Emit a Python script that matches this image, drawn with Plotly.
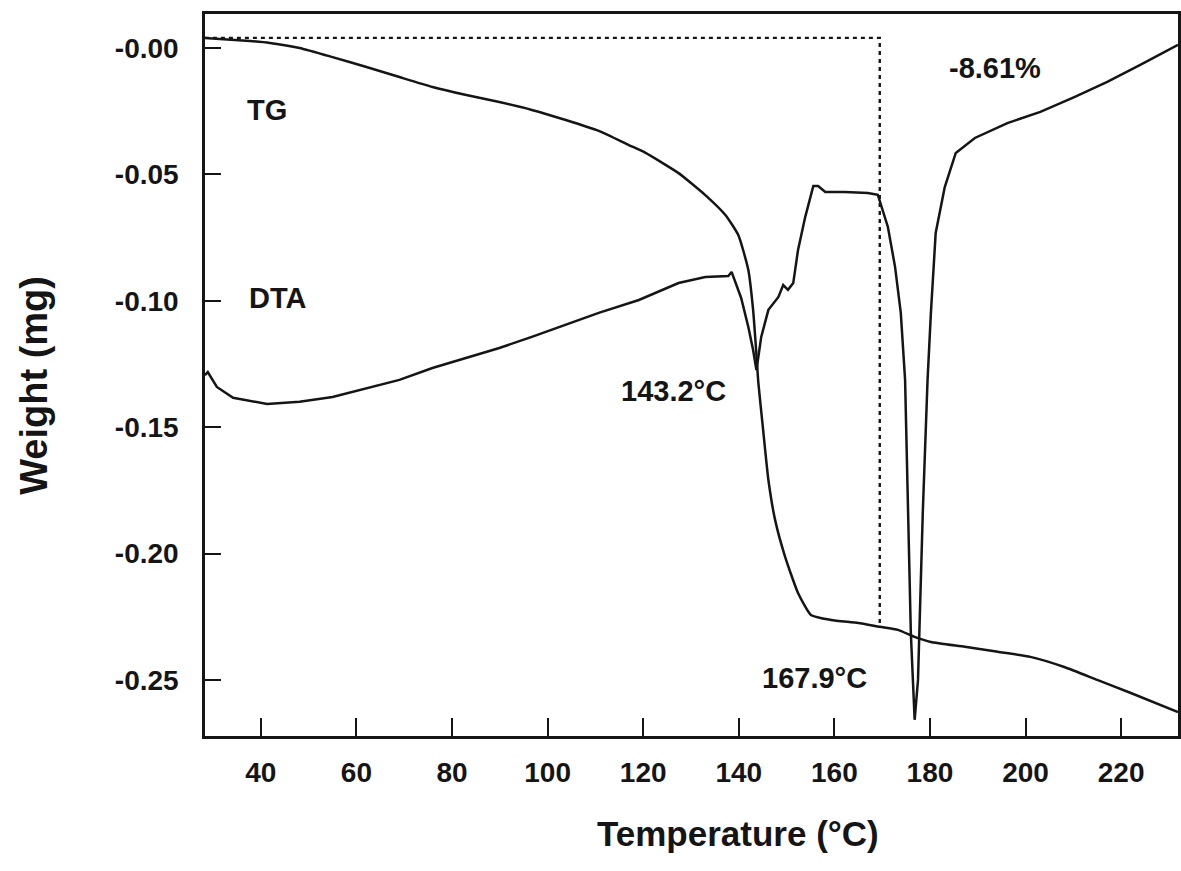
import plotly.graph_objects as go

# ---- data ----
tg_temp = [28.3, 31.4, 37.7, 41.9, 48.1, 55.0, 62.1, 69.0, 75.9, 83.0, 89.9, 96.7,
           103.8, 110.7, 117.0, 120.5, 127.4, 133.0, 137.2, 139.9, 142.0, 143.0,
           143.7, 144.1, 145.1, 146.2, 147.6, 149.7, 152.4, 155.1, 159.3, 165.0,
           169.5, 173.3, 176.8, 180.2, 187.3, 194.2, 201.0, 208.1, 215.0, 221.9, 231.9]
tg_weight = [0.0040, 0.0036, 0.0028, 0.0020, 0.0000, -0.0036, -0.0075, -0.0115,
             -0.0154, -0.0186, -0.0214, -0.0245, -0.0285, -0.0328, -0.0384, -0.0415,
             -0.0495, -0.0582, -0.0661, -0.0740, -0.0878, -0.1036, -0.1214, -0.1325,
             -0.1511, -0.1709, -0.1867, -0.2013, -0.2156, -0.2243, -0.2263, -0.2275,
             -0.2290, -0.2302, -0.2330, -0.2350, -0.2369, -0.2389, -0.2409, -0.2449,
             -0.2500, -0.2551, -0.2627]

dta_temp = [28.3, 28.9, 30.8, 34.2, 41.3, 48.1, 55.0, 62.1, 69.0, 75.9, 83.0, 89.9,
            96.7, 103.8, 110.7, 119.1, 123.9, 127.4, 133.0, 137.8, 138.5, 139.3,
            140.5, 142.0, 143.0, 143.7, 144.7, 146.2, 148.3, 149.3, 150.3, 151.4,
            152.4, 153.9, 155.6, 156.6, 158.1, 162.2, 167.0, 169.1, 171.2, 172.7,
            173.9, 174.8, 175.4, 176.0, 176.8, 177.5, 177.9, 178.5, 179.5, 180.2,
            181.2, 183.1, 185.4, 189.4, 196.2, 203.1, 210.2, 217.1, 224.0, 231.9]
dta_signal = [-0.1294, -0.1282, -0.1341, -0.1384, -0.1408, -0.1400, -0.1381, -0.1345,
              -0.1313, -0.1266, -0.1226, -0.1187, -0.1143, -0.1096, -0.1048, -0.0997,
              -0.0957, -0.0930, -0.0906, -0.0902, -0.0886, -0.0926, -0.0989, -0.1104,
              -0.1195, -0.1274, -0.1143, -0.1036, -0.0985, -0.0938, -0.0957, -0.0930,
              -0.0799, -0.0669, -0.0546, -0.0546, -0.0570, -0.0570, -0.0574, -0.0581,
              -0.0708, -0.0866, -0.1048, -0.1313, -0.1839, -0.2314, -0.2658, -0.2500,
              -0.2235, -0.1839, -0.1313, -0.1048, -0.0732, -0.0550, -0.0415, -0.0356,
              -0.0297, -0.0253, -0.0194, -0.0134, -0.0067, 0.0012]

# weight-loss construction lines (dashed)
step_temp = [28.3, 169.5, 169.5]
step_weight = [0.0040, 0.0040, -0.2290]

x_ticks = [40, 60, 80, 100, 120, 140, 160, 180, 200, 220]
x_tick_text = ["40", "60", "80", "100", "120", "140", "160", "180", "200", "220"]
y_ticks = [0.0, -0.05, -0.10, -0.15, -0.20, -0.25]
y_tick_text = ["-0.00", "-0.05", "-0.10", "-0.15", "-0.20", "-0.25"]

labels = ["TG", "DTA", "143.2°C", "167.9°C", "-8.61%"]
label_x = [41.3, 43.6, 126.3, 155.8, 193.7]
label_y = [-0.0245, -0.0990, -0.1357, -0.2492, -0.0079]

# ---- figure ----
INK = "#151515"
FONT = "Liberation Sans, Arial, sans-serif"

fig = go.Figure()
fig.add_trace(go.Scatter(x=step_temp, y=step_weight, mode="lines",
                         line=dict(color=INK, width=2.4, dash="4px,4px"),
                         hoverinfo="skip", showlegend=False))
fig.add_trace(go.Scatter(x=tg_temp, y=tg_weight, mode="lines", name="TG",
                         line=dict(color=INK, width=2.5, shape="spline", smoothing=0.5),
                         showlegend=False))
fig.add_trace(go.Scatter(x=dta_temp, y=dta_signal, mode="lines", name="DTA",
                         line=dict(color=INK, width=2.5), showlegend=False))

for t, lx, ly in zip(labels, label_x, label_y):
    fig.add_annotation(x=lx, y=ly, xref="x", yref="y", text="<b>%s</b>" % t,
                       showarrow=False, xanchor="center", yanchor="middle",
                       font=dict(family=FONT, size=29, color=INK))

fig.add_annotation(x=0.548, y=-0.1357, xref="paper", yref="paper",
                   text="<b>Temperature (°C)</b>", showarrow=False,
                   xanchor="center", yanchor="middle",
                   font=dict(family=FONT, size=35, color=INK))
fig.add_annotation(x=-0.176, y=0.486, xref="paper", yref="paper",
                   text="<b>Weight (mg)</b>", textangle=-90, showarrow=False,
                   xanchor="center", yanchor="middle",
                   font=dict(family=FONT, size=38, color=INK))

fig.update_xaxes(range=[28.32, 231.9], tickvals=x_ticks,
                 ticktext=["<b>%s</b>" % s for s in x_tick_text],
                 ticks="inside", ticklen=18,
                 tickwidth=2, tickcolor=INK, showline=True, linecolor=INK, linewidth=2.5,
                 mirror=True, showgrid=False, zeroline=False,
                 tickfont=dict(family=FONT, size=28, color=INK), ticklabelstandoff=10)
fig.update_yaxes(range=[-0.2722, 0.01345], tickvals=y_ticks,
                 ticktext=["<b>%s</b>" % s for s in y_tick_text],
                 ticks="inside", ticklen=16, tickwidth=2, tickcolor=INK,
                 showline=True, linecolor=INK, linewidth=2.5, mirror=True,
                 showgrid=False, zeroline=False,
                 tickfont=dict(family=FONT, size=28, color=INK), ticklabelstandoff=18)

fig.update_layout(width=1181, height=871, margin=dict(l=205, r=0, t=14, b=135),
                  paper_bgcolor="white", plot_bgcolor="white", showlegend=False)

fig.write_html("out.html")
